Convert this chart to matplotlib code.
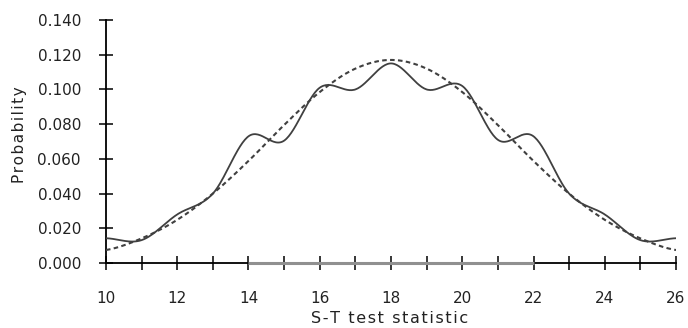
import numpy as np
import matplotlib
matplotlib.use("Agg")
import matplotlib.pyplot as plt

# values at each integer statistic
x_vals = [10, 11, 12, 13, 14, 15, 16, 17, 18, 19, 20, 21, 22, 23, 24, 25, 26]
observed = [0.0143, 0.0132, 0.0280, 0.0400, 0.0730, 0.0705, 0.1010, 0.1000, 0.1150,
            0.1000, 0.1020, 0.0710, 0.0730, 0.0400, 0.0280, 0.0132, 0.0143]
normal_fit = [0.0075, 0.0142, 0.0249, 0.0400, 0.0588, 0.0795, 0.0985, 0.1120, 0.1170,
              0.1120, 0.0985, 0.0795, 0.0588, 0.0400, 0.0249, 0.0142, 0.0075]
base_x = [14, 22]
base_y = [0.0, 0.0]

x_ticks = list(range(10, 27))
x_labels = [str(v) if v % 2 == 0 else "" for v in x_ticks]
y_ticks = [0.0, 0.02, 0.04, 0.06, 0.08, 0.10, 0.12, 0.14]


def smooth(xs, ys, steps=30):
    # Catmull-Rom through the points, like a spreadsheet smoothed line
    xs = np.asarray(xs, float)
    ys = np.asarray(ys, float)
    px = np.concatenate([[2 * xs[0] - xs[1]], xs, [2 * xs[-1] - xs[-2]]])
    py = np.concatenate([[ys[0]], ys, [ys[-1]]])
    out_x, out_y = [], []
    t = np.linspace(0, 1, steps, endpoint=False)
    for i in range(1, len(px) - 2):
        for p, out in ((px, out_x), (py, out_y)):
            p0, p1, p2, p3 = p[i - 1], p[i], p[i + 1], p[i + 2]
            out.extend(0.5 * (2 * p1 + (-p0 + p2) * t
                              + (2 * p0 - 5 * p1 + 4 * p2 - p3) * t ** 2
                              + (-p0 + 3 * p1 - 3 * p2 + p3) * t ** 3))
    out_x.append(xs[-1])
    out_y.append(ys[-1])
    return np.array(out_x), np.array(out_y)


def spaced(s):
    # old-style letter spacing, done with hair spaces
    return "\u200a".join(s)


plt.rcParams["font.family"] = ["DejaVu Sans"]

fig = plt.figure(figsize=(6.88, 3.28), dpi=100)
ax = fig.add_axes([0.154, 0.198, 0.8286, 0.741])

sx, sy = smooth(x_vals, observed)
ax.plot(sx, sy, color="#404040", lw=1.3, zorder=3)
nx, ny = smooth(x_vals, normal_fit)
ax.plot(nx, ny, color="#404040", lw=1.5, ls=(0, (2.2, 1.6)), zorder=3)
ax.plot(base_x, base_y, color="#909090", lw=2.2, solid_capstyle="butt",
        zorder=4, clip_on=False)

ax.set_xlim(10, 26)
ax.set_ylim(0, 0.14)
ax.set_xticks(x_ticks)
ax.set_xticklabels(x_labels)
ax.set_yticks(y_ticks)
ax.set_yticklabels([f"{v:.3f}" for v in y_ticks])

for side in ("top", "right"):
    ax.spines[side].set_visible(False)
for side in ("left", "bottom"):
    ax.spines[side].set_linewidth(1.3)
    ax.spines[side].set_color("black")
    ax.spines[side].set_zorder(2)

ax.tick_params(axis="x", direction="inout", length=10, width=1.1, pad=15,
               labelsize=11)
ax.tick_params(axis="y", direction="inout", length=10, width=1.1, pad=13,
               labelsize=11)
ax.tick_params(colors="black", which="both", labelcolor="#222222")

ax.set_xlabel(spaced("S-T test statistic"), fontsize=11.5, color="#222222")
ax.set_ylabel(spaced("Probability"), fontsize=11, color="#222222")
ax.xaxis.set_label_coords(0.497, -0.198)
ax.yaxis.set_label_coords(-0.138, 0.53)

fig.savefig("out.png", dpi=100)
